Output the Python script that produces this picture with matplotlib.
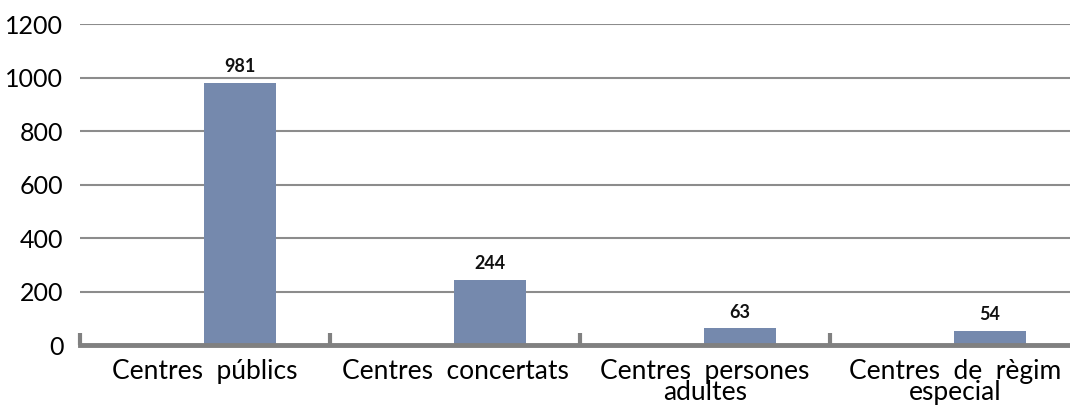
import matplotlib
matplotlib.use('Agg')
from matplotlib import pyplot as plt

categories = ['Centres  públics', 'Centres  concertats', 'Centres  persones\nadultes', 'Centres  de  règim\nespecial']
values = [981, 244, 63, 54]
yticks = [0, 200, 400, 600, 800, 1000, 1200]

plt.rcParams['font.family'] = ['Lato', 'DejaVu Sans']

fig = plt.figure(figsize=(10.7, 4.09), dpi=100)
# slots of 250 px each; the last one runs past the right edge like the original
ax = fig.add_axes([80 / 1070, 0.156, 1000 / 1070, 0.785])

x = list(range(len(categories)))
xb = [i + 0.14 for i in x]
bars = ax.bar(xb, values, width=0.29, color='#7589AD', zorder=3)

for b, v in zip(bars, values):
    ax.text(b.get_x() + b.get_width() / 2, v + 28, str(v), ha='center', va='bottom',
            fontsize=13, fontweight='bold', color='#111111')

ax.set_xlim(-0.5, 3.5)
ax.set_ylim(0, 1200)
ax.set_yticks(yticks)
ax.set_yticklabels([str(t) for t in yticks], fontsize=18, color='#000000')
ax.yaxis.grid(True, color='#8c8c8c', linewidth=1.5, zorder=0)
ax.tick_params(axis='y', length=0, pad=12)

ax.set_xticks(x)
ax.set_xticklabels(categories, fontsize=19, color='#000000', linespacing=0.8)
ax.tick_params(axis='x', length=0, pad=10)

# boundary marks
ax.set_xticks([-0.5, 0.5, 1.5, 2.5, 3.5], minor=True)
ax.tick_params(axis='x', which='minor', direction='in', length=9, width=3, color='#808080')

for s in ['top', 'right', 'left']:
    ax.spines[s].set_visible(False)
ax.spines['bottom'].set_color('#808080')
ax.spines['bottom'].set_linewidth(3.5)
ax.spines['bottom'].set_zorder(4)

fig.savefig('out.png', dpi=100)
